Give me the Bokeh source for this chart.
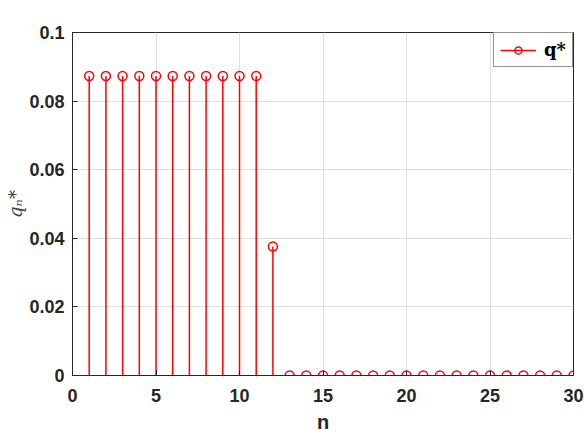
from bokeh.plotting import figure
from bokeh.models import (Range1d, FixedTicker, Legend, LegendItem,
                          ColumnDataSource)
from bokeh.embed import file_html
from bokeh.resources import INLINE

# ---- data ----
n_vals = [1, 2, 3, 4, 5, 6, 7, 8, 9, 10,
          11, 12, 13, 14, 15, 16, 17, 18, 19, 20,
          21, 22, 23, 24, 25, 26, 27, 28, 29, 30]
q_vals = [0.0873, 0.0873, 0.0873, 0.0873, 0.0873, 0.0873, 0.0873, 0.0873,
          0.0873, 0.0873, 0.0873, 0.0376, 0.0, 0.0, 0.0, 0.0, 0.0, 0.0, 0.0,
          0.0, 0.0, 0.0, 0.0, 0.0, 0.0, 0.0, 0.0, 0.0, 0.0, 0.0]
base_vals = [0.0] * len(n_vals)
x_ticks = [0, 5, 10, 15, 20, 25, 30]
y_ticks = [0, 0.02, 0.04, 0.06, 0.08, 0.1]
y_tick_labels = {0: "0", 0.02: "0.02", 0.04: "0.04", 0.06: "0.06",
                 0.08: "0.08", 0.1: "0.1"}

RED = "#ff0000"
DARK = "#262626"
FONT = "Liberation Sans"

src = ColumnDataSource(dict(n=n_vals, q=q_vals, b=base_vals))

p = figure(width=584, height=438, output_backend="svg", toolbar_location=None,
           x_range=Range1d(0, 30), y_range=Range1d(0, 0.1),
           min_border_left=72, min_border_right=11, min_border_top=32,
           min_border_bottom=63)
p.background_fill_color = "white"
p.border_fill_color = "white"
p.outline_line_color = DARK
p.outline_line_width = 1

stems = p.segment(x0="n", y0="b", x1="n", y1="q", source=src,
                  line_color=RED, line_width=1.5)
marks = p.scatter(x="n", y="q", source=src, marker="circle", size=9,
                  fill_color=None, line_color=RED, line_width=1.5)

# axes
for ax in (p.xaxis[0], p.yaxis[0]):
    ax.axis_line_color = DARK
    ax.major_tick_line_color = DARK
    ax.major_tick_in = 5
    ax.major_tick_out = 0
    ax.minor_tick_line_color = None
    ax.major_label_text_font = FONT
    ax.major_label_text_font_style = "bold"
    ax.major_label_text_font_size = "18px"
    ax.major_label_text_color = DARK

p.xaxis[0].ticker = FixedTicker(ticks=x_ticks)
p.yaxis[0].ticker = FixedTicker(ticks=y_ticks)
p.yaxis[0].major_label_overrides = y_tick_labels
p.xaxis[0].major_label_standoff = 13
p.yaxis[0].major_label_standoff = 8
p.xaxis[0].axis_label = "n"
p.xaxis[0].axis_label_text_font = FONT
p.xaxis[0].axis_label_text_font_style = "bold"
p.xaxis[0].axis_label_text_font_size = "20px"
p.xaxis[0].axis_label_text_color = DARK
p.xaxis[0].axis_label_standoff = 6

# y-axis label q_n^*
p.yaxis[0].axis_label = "qₙ*"
p.yaxis[0].axis_label_text_font = "DejaVu Serif"
p.yaxis[0].axis_label_text_font_style = "italic"
p.yaxis[0].axis_label_text_font_size = "18px"
p.yaxis[0].axis_label_text_color = "#404040"
p.yaxis[0].axis_label_standoff = 0

# grid
for g in (p.xgrid[0], p.ygrid[0]):
    g.grid_line_color = "#dedede"
    g.grid_line_width = 1
p.xgrid[0].ticker = FixedTicker(ticks=x_ticks)
p.ygrid[0].ticker = FixedTicker(ticks=y_ticks)

legend = Legend(items=[LegendItem(label="q*", renderers=[stems, marks])],
                location="top_right", margin=0, padding=6, spacing=0,
                glyph_width=36, glyph_height=18, label_standoff=8,
                border_line_color=DARK, border_line_width=1,
                background_fill_color="white", background_fill_alpha=1,
                label_text_font="DejaVu Serif", label_text_font_style="bold",
                label_text_font_size="18px", label_text_color="black")
p.add_layout(legend, "center")

open("out.html", "w").write(file_html(p, INLINE))
